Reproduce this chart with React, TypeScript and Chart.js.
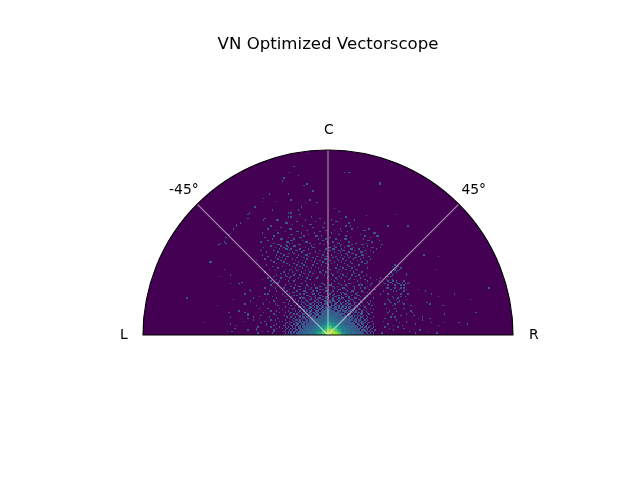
import { useEffect, useRef } from "react";
import { Chart, registerables } from "chart.js";

Chart.register(...registerables);

const chartTitle = "VN Optimized Vectorscope";
const labelNames = ["L", "-45°", "C", "45°", "R"];
const labelAngles = [-90, -45, 0, 45, 90];
const spokeTipX = [-0.7071, 0, 0.7071];
const spokeTipY = [0.7071, 1, 0.7071];

const binsPerSide = 128;

// viridis steps for the log-scaled bin counts, level 1 = a single hit
const levelColors = ["#38598c", "#31688e", "#2a788e", "#21918c", "#27ad81", "#5ec962", "#aadc32"];

// bin levels around the origin, top row first, columns -32..32
const nearRows = [
  "00000100000001100000100000011000001000010000001100000010000000100",
  "00100000010000000100001000000100011000000100100000000101000001000",
  "00000010000110000010000000110000000100100000010001100000000100000",
  "01000000100000001000100110000010000010000011000000100010010000000",
  "00000100000010000001000000101000100000011000100000100000000010001",
  "00010000001000011000010010000011000100100000010011000001000000000",
  "00000001100000000100100000100100001000001010000100001000100100000",
  "10000100000010010000011001000001010010000101100000010000000001000",
  "00000000101000000110000100110000100100110000010010001100001000000",
  "00100010000001000001001000001011000011000100101000000010000100000",
  "00000001000010110000100101100010100100010110001000110000010000010",
  "00010000010000001001100010011001001100101001000110000100100000000",
  "00000100000101000100001101000110010110010000101001000010000001000",
  "01000000100000110010010010110011011001101010010000110001000100000",
  "00001000001001001001101001010111001011001100101100100100000010000",
  "00000010010000100110010110101001101110110011010010010010100000100",
  "00100000000110010001101011011010111011010110101100101000010000000",
  "00000100100001001011010010110111010111011101101001100100001001000",
  "10000001000100110100101101101011211011101110010110100110100000010",
  "00001000010010010101100111011111121110111011101101010001001000000",
  "00100010000101001011011010111211211211110101110010110101000100100",
  "00000100101000110101101111012112122112111111011101001011000010000",
  "01000001000110101011010111111221221222112101111010110100101000000",
  "00010010010010110110111101121222232221212111101110101011000100010",
  "00000100100101011011011111212222323322211221111011011010101001000",
  "00100001011010101101111121222232333332222122111110110110010100000",
  "10000100100110110111110122222333343322322211211101110101101000100",
  "00010010011011011101111212223233443433332222121111011011010010000",
  "00100100101101110111112122233344454443333222111111101101100100010",
  "01000011011010111111212223334445555444433322222111110110101001000",
  "00101001010110111112122233344455565555443333222121111011011010010",
  "10010010110111011212222333444556666655544333322212111110101100100",
  "00100101011011111222233334445566677666554433322222111101110101001",
  "01001010110111112222333344456667777776655433332222211111011010100",
  "00101010101111122223333445556677777777665544333222221111101101010",
  "01010011011111222223333344445556777777776655444333222211111011010",
];

// scattered bins further out: row first, then its columns
const sparseRows = [
  [125, -14], [116, -24], [112, -27, 11, 14], [110, -21], [108, -31], [106, -32], [105, 35, 36], [104, -15, 35, 36],
  [103, -17], [99, -11], [97, -28, -41], [94, -45], [93, -26, -13], [92, -46, -37], [91, -16, -8], [88, -51, -19],
  [87, 4], [86, -21, -39], [85, 7], [84, -55, -28, -26], [83, -56, -20, 47], [82, 26], [81, -28, -26, -12, 12],
  [80, -44, -56, -6, 9], [79, -45, -36, -35, -16, 2, 18], [78, -22, -9, 5, 6], [77, -61, -30, -29, -3, 14],
  [76, -64, -25, -13, -12, 3], [75, -64, -40, -18, 12, 15, 41, 55], [74, -33, -11, -4, -3, 20],
  [73, -66, -42, -27, -26, 8, 16, 28], [72, -37, -15, -2, 4, 24, 25], [71, -30, -22, -21, -6, 9, 13],
  [70, -46, -35, -19, -10, 2, 31, 32], [69, -69, -26, -25, -14, 7, 22], [68, -38, -17, -9, -8, -5, 12, 25, 33, 34],
  [67, -71, -44, -28, -20, -19, 1, 15, 29], [66, -39, -33, -32, -24, -7, -2, 5, 11, 12, 24],
  [65, -42, -26, -25, -18, -4, 8, 27, 28, 35], [64, -72, -47, -29, -28, -16, -15, -1, 3, 14, 30],
  [63, -75, -71, -38, -27, -25, -13, -6, 0, 6, 7, 19, 26], [62, -76, -35, -34, -30, -21, -20, -10, -3, 9, 16, 23, 24, 37],
  [61, -40, -33, -29, -24, -23, -12, 4, 8, 13, 14, 27], [60, -45, -37, -31, -28, -16, -11, -10, 0, 1, 5, 11, 17, 24, 30, 31, 36],
  [59, -34, -30, -29, -26, -20, -14, -2, 3, 4, 9, 15, 16, 21, 33], [58, -47, -38, -27, -23, -22, -17, -6, 1, 7, 10, 11, 18, 25, 29],
  [57, -43, -35, -25, -19, -18, -9, -3, 4, 8, 14, 22, 23, 31], [56, -33, -28, -27, -24, -13, -7, -1, 6, 12, 16, 17, 26],
  [55, -46, -36, -31, -21, -16, -15, -4, 2, 9, 13, 19, 23, 24, 66], [54, -42, -34, -29, -28, -19, -14, -8, -2, 5, 11, 15, 21, 28, 76],
  [53, -37, -32, -22, -17, -11, -5, 0, 3, 8, 14, 18, 19, 24], [52, -44, -35, -30, -25, -15, -9, -3, -2, 6, 10, 17, 22, 29],
  [51, -50, -40, -33, -23, -18, -12, -6, 1, 7, 12, 20, 26], [50, -82, -81, -38, -31, -21, -16, -10, -4, 4, 9, 15, 23, 27],
  [49, -36, -29, -24, -19, -18, -8, -2, 2, 11, 16, 25, 26], [48, -43, -27, -22, -17, -11, -5, 0, 6, 13, 21, 46],
  [47, -39, -32, -25, -20, -15, -9, -3, 8, 14, 18, 44, 48], [46, -35, -23, -18, -12, -7, -1, 5, 10, 16, 27, 47, 50],
  [45, -72, -41, -30, -26, -21, -14, 1, 7, 12, 19, 45, 46, 49, 74], [44, -37, -27, -22, -16, -10, -4, 9, 15, 20, 46, 48],
  [43, -44, -31, -25, -19, -13, -6, -2, 6, 17, 23, 43, 47], [42, -33, -28, -23, -17, -11, -5, 2, 8, 13, 18, 42, 45, 54],
  [41, -68, -36, -30, -24, -20, -14, -3, 3, 10, 16, 21, 26, 44, 54], [40, -75, -38, -29, -26, -18, -12, -7, 0, 7, 12, 19, 24, 41, 43],
  [39, -42, -33, -27, -21, -15, -8, -1, 5, 9, 15, 22, 29, 36], [38, -46, -36, -30, -23, -19, -13, 2, 6, 14, 18, 25, 33, 40, 44],
  [37, -40, -34, -28, -24, -16, 4, 11, 20, 27, 35, 41, 44, 45, 47, 52], [36, -60, -38, -35, 38, 42, 43, 47, 51, 56],
  [35, -68, -62, -39, -35, 39, 44, 48, 49, 53, 55], [34, -40, 41, 46, 50, 52], [32, -44, -37, 40, 41, 46, 50, 52, 111],
  [31, -55, 43, 49, 54, 62], [30, -54, -41, -36, 38, 45, 47, 52, 67], [28, -58, -44, -42, 36, 41, 50, 55, 71, 87],
  [26, -48, -39, 44, 50, 53, 76], [25, -98, -52, -36, 45, 48], [24, -66, -43, 41, 47, 54, 98], [23, -54, -38, 42, 49],
  [22, -46, -41, 43, 48, 51, 68], [21, -58, -45, -37, 39, 46, 52, 70], [20, -77, -50, -35, 44, 57, 79], [18, -48, -42, -34, 40, 46, 52],
  [16, -62, -40, -36, 42, 47, 57], [15, -69, -58, -45, -34, 41, 58, 102], [14, -56, -38, 44, 54, 80], [13, -56, -47, -36, 50, 59],
  [12, -68, -52, -41, 43, 46, 65], [11, -56, -48, -35, 39, 62, 70], [10, -52, -40, -37, 47, 65], [9, -59, -44, -34, 38, 54],
  [8, -86, -47, 49, 54, 71, 80, 90], [7, -68, -43, -36, 41, 60, 96], [6, -64, -43, -38, 45, 51, 76], [5, -49, -40, -34, 39, 48],
  [4, -65, -50, -36, 42, 52], [3, -56, -50, -38, 45, 63], [2, -70, -67, -46, -42, -38, 56, 69], [1, -49, -39, 37, 60, 75],
];

// spread the near-origin rows into parallel column / row / level lists
const nearTopRow = nearRows.length - 1;
const nearCols: number[] = [];
const nearRowIds: number[] = [];
const nearLevels: number[] = [];
nearRows.forEach((row, i) => {
  row.split("").forEach((ch, j) => {
    if (ch !== "0") {
      nearCols.push(j - 32);
      nearRowIds.push(nearTopRow - i);
      nearLevels.push(Number(ch));
    }
  });
});

const binPoint = (col: number, row: number) => ({
  x: (col + 0.5) / binsPerSide,
  y: (row + 0.5) / binsPerSide,
});

const levelData = levelColors.map((_, idx) => {
  const level = idx + 1;
  const pts: { x: number; y: number }[] = [];
  nearCols.forEach((col, i) => {
    if (nearLevels[i] === level) pts.push(binPoint(col, nearRowIds[i]));
  });
  if (level === 1) {
    sparseRows.forEach(([row, ...cols]) => {
      cols.forEach((col) => pts.push(binPoint(col, row)));
    });
  }
  return pts;
});

const scopePlugin = {
  id: "scope",
  beforeDatasetsDraw(chart: any) {
    const { ctx, scales } = chart;
    const cx = scales.x.getPixelForValue(0);
    const cy = scales.y.getPixelForValue(0);
    const radius = scales.x.getPixelForValue(1) - cx;
    const half = (scales.x.getPixelForValue(1 / binsPerSide) - cx) / 2;
    ctx.save();
    ctx.beginPath();
    ctx.arc(cx, cy, radius, Math.PI, 2 * Math.PI);
    ctx.closePath();
    ctx.fillStyle = "#440154";
    ctx.fill();
    ctx.clip();
    // nearest-neighbour look: snap every bin to whole pixels
    chart.data.datasets.forEach((ds: any, i: number) => {
      if (!ds.binLayer) return;
      ctx.fillStyle = ds.binColor;
      chart.getDatasetMeta(i).data.forEach((pt: any) => {
        const l = Math.round(pt.x - half);
        const t = Math.round(pt.y - half);
        ctx.fillRect(l, t, Math.round(pt.x + half) - l, Math.round(pt.y + half) - t);
      });
    });
    ctx.restore();
  },
  afterDatasetsDraw(chart: any) {
    const { ctx, scales } = chart;
    const cx = scales.x.getPixelForValue(0);
    const cy = scales.y.getPixelForValue(0);
    const radius = scales.x.getPixelForValue(1) - cx;
    ctx.save();
    ctx.beginPath();
    ctx.arc(cx, cy, radius, Math.PI, 2 * Math.PI);
    ctx.closePath();
    ctx.strokeStyle = "#000";
    ctx.lineWidth = 1.1;
    ctx.stroke();
    ctx.fillStyle = "#000";
    ctx.font = '13.9px "DejaVu Sans"';
    ctx.textAlign = "center";
    ctx.textBaseline = "middle";
    labelNames.forEach((name, i) => {
      const a = (labelAngles[i] * Math.PI) / 180;
      const px = scales.x.getPixelForValue(1.108 * Math.sin(a));
      const py = scales.y.getPixelForValue(1.108 * Math.cos(a));
      ctx.fillText(name, px + 0.8, py + 0.7);
    });
    ctx.restore();
  },
};

export default function App() {
  const canvasRef = useRef<HTMLCanvasElement>(null);

  useEffect(() => {
    document.body.style.margin = "0";
    const chart = new Chart(canvasRef.current as HTMLCanvasElement, {
      type: "scatter",
      data: {
        datasets: [
          ...levelData.map((pts, i) => ({
            data: pts,
            binLayer: true,
            binColor: levelColors[i],
            pointRadius: 0,
            showLine: false,
          })),
          ...spokeTipX.map((tipX, i) => ({
            data: [
              { x: 0, y: 0 },
              { x: tipX, y: spokeTipY[i] },
            ],
            showLine: true,
            pointRadius: 0,
            borderColor: "rgba(255,255,255,0.55)",
            borderWidth: 1.15,
          })),
        ],
      } as any,
      options: {
        animation: false,
        responsive: false,
        devicePixelRatio: 1,
        layout: { padding: { left: 143, right: 127, top: 34.6, bottom: 145 } },
        plugins: {
          legend: { display: false },
          tooltip: { enabled: false },
          title: {
            display: true,
            text: chartTitle,
            fullSize: false,
            color: "#000",
            font: { family: "DejaVu Sans", size: 16.6, weight: "normal" },
            padding: { top: 0, bottom: 95.5 },
          },
        },
        scales: {
          x: { type: "linear", min: -1, max: 1, display: false },
          y: { type: "linear", min: 0, max: 1, display: false },
        },
      } as any,
      plugins: [scopePlugin],
    });
    return () => {
      chart.destroy();
    };
  }, []);

  return <canvas ref={canvasRef} width={640} height={480} style={{ display: "block" }} />;
}
